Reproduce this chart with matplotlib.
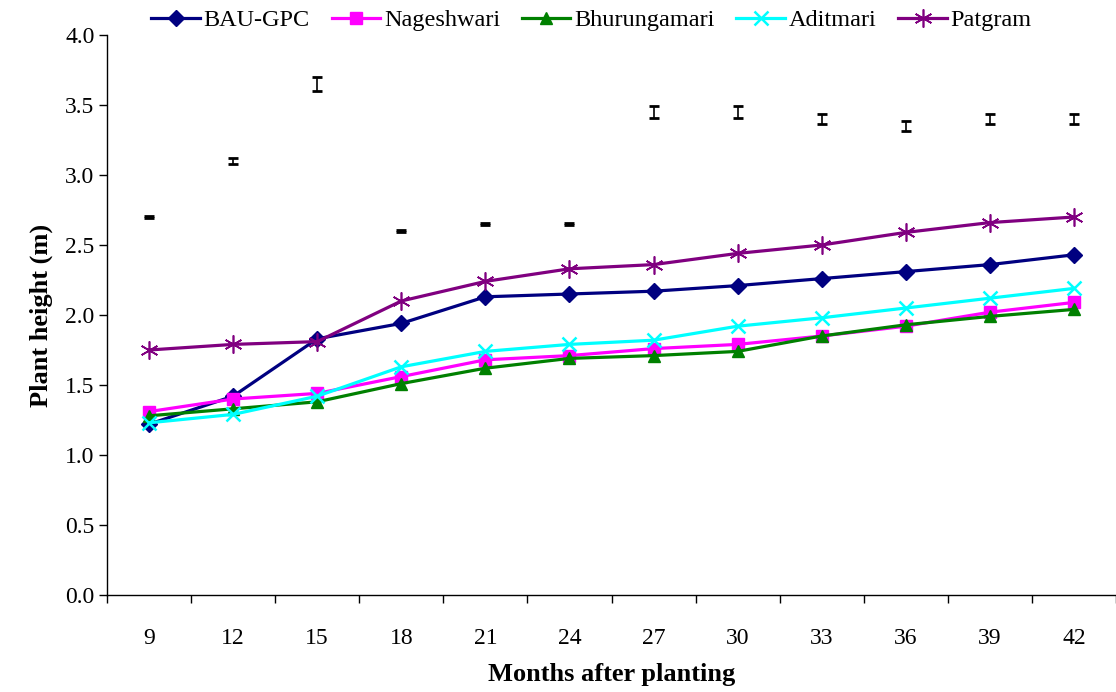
import matplotlib
matplotlib.use("Agg")
import matplotlib.pyplot as plt
import numpy as np

months = [9, 12, 15, 18, 21, 24, 27, 30, 33, 36, 39, 42]
bau_gpc = [1.22, 1.42, 1.83, 1.94, 2.13, 2.15, 2.17, 2.21, 2.26, 2.31, 2.36, 2.43]
nageshwari = [1.31, 1.40, 1.44, 1.56, 1.68, 1.71, 1.76, 1.79, 1.85, 1.92, 2.02, 2.09]
bhurungamari = [1.28, 1.33, 1.38, 1.51, 1.62, 1.69, 1.71, 1.74, 1.85, 1.93, 1.99, 2.04]
aditmari = [1.23, 1.29, 1.42, 1.63, 1.74, 1.79, 1.82, 1.92, 1.98, 2.05, 2.12, 2.19]
patgram = [1.75, 1.79, 1.81, 2.10, 2.24, 2.33, 2.36, 2.44, 2.50, 2.59, 2.66, 2.70]
lsd_pos = [2.70, 3.10, 3.65, 2.60, 2.65, 2.65, 3.45, 3.45, 3.40, 3.35, 3.40, 3.40]
lsd_err = [0.006, 0.02, 0.05, 0.004, 0.006, 0.006, 0.04, 0.04, 0.035, 0.035, 0.035, 0.035]

plt.rcParams['font.family'] = ['Liberation Serif', 'DejaVu Serif']

fig = plt.figure(figsize=(11.16, 6.92), dpi=100)
ax = fig.add_axes([107/1116, 1-595/692, 1-107/1116, (595-35)/692])

x = np.arange(len(months))
lw = 2.3
ax.plot(x, bau_gpc, color='#000080', lw=lw, marker='D', ms=8, label='BAU-GPC')
ax.plot(x, nageshwari, color='#FF00FF', lw=lw, marker='s', ms=9, label='Nageshwari')
ax.plot(x, bhurungamari, color='#008000', lw=lw, marker='^', ms=8, label='Bhurungamari')
ax.plot(x, aditmari, color='#00FFFF', lw=lw, marker='x', ms=10, mew=1.8, label='Aditmari')
ax.plot(x, patgram, color='#800080', lw=lw, marker=(6, 2, 0), ms=13, mew=1.2, label='Patgram')
ax.errorbar(x, lsd_pos, yerr=lsd_err, fmt='none', ecolor='black', elinewidth=1.2,
            capsize=3.5, capthick=2.0)

ax.set_xlim(-0.5, len(months) - 0.5)
ax.set_ylim(0, 4.0)
ax.set_yticks(np.arange(0, 4.01, 0.5))
ax.set_yticklabels([f"{v:.1f}" for v in np.arange(0, 4.01, 0.5)])
ax.set_xticks(x)
ax.set_xticklabels([str(m) for m in months])
ax.set_xticks(np.arange(-0.5, len(months), 1.0), minor=True)
ax.tick_params(axis='x', which='major', length=0, pad=24, labelsize=17)
ax.tick_params(axis='x', which='minor', length=6, direction='out', width=1)
ax.tick_params(axis='y', which='major', length=6, direction='out', labelsize=17, width=1, pad=3)
for s in ['top', 'right']:
    ax.spines[s].set_visible(False)
ax.spines['left'].set_linewidth(1)
ax.spines['bottom'].set_linewidth(1)

ax.set_ylabel('Plant height (m)', fontsize=19, fontweight='bold', labelpad=9)
ax.set_xlabel('Months after planting', fontsize=19, fontweight='bold', labelpad=10)

fig.legend(loc='upper center', bbox_to_anchor=(0.53, 1.018), ncol=5, frameon=False,
           fontsize=17.5, handlelength=2.0, handletextpad=0.15, columnspacing=0.9)

fig.savefig('out.png', dpi=100)
